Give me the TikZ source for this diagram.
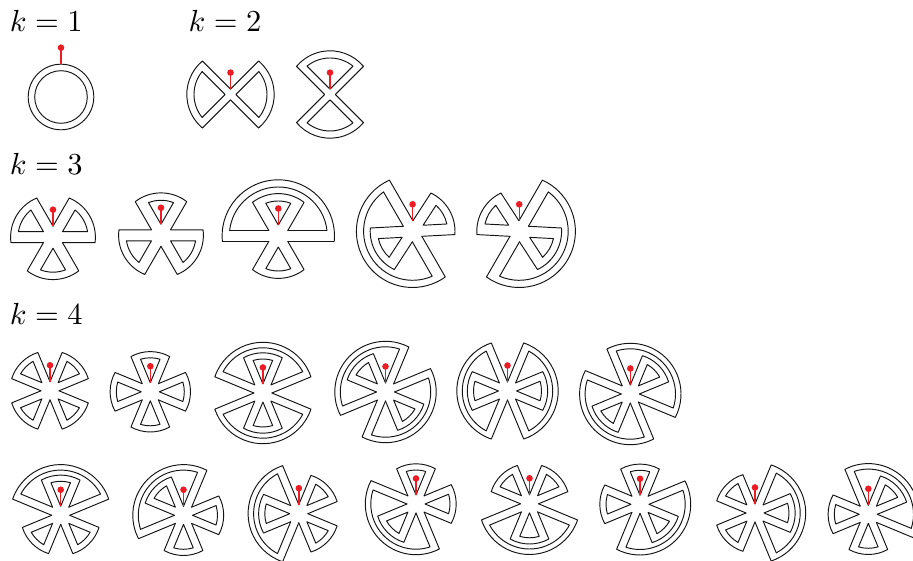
\documentclass[tikz,border=0pt]{standalone}
\definecolor{pinred}{RGB}{237,28,36}
\tikzset{ribbon/.style={draw=black!92,line width=0.95pt,line cap=round,line join=round},
pinline/.style={draw=pinred,line width=1.4pt},
pinball/.style={fill=pinred},
lab/.style={scale=3.05,anchor=base west,inner sep=0pt}}
% band from spoke p ccw to spoke q: p q ri ro gapBelowP gapAboveP gapBelowQ gapAboveQ
\newcommand\rbandx[8]{%
 \pgfmathsetmacro\hA{\hw+\hx*abs(sin(2*(#1-#5/2)))}%
 \pgfmathsetmacro\hB{\hw+\hx*abs(sin(2*(#1+#6/2)))}%
 \pgfmathsetmacro\hC{\hw+\hx*abs(sin(2*(#2-#7/2)))}%
 \pgfmathsetmacro\hD{\hw+\hx*abs(sin(2*(#2+#8/2)))}%
 \pgfmathsetmacro\rA{\hA/sin(#5/2)}%
 \pgfmathsetmacro\rB{\hB/sin(#6/2)}%
 \pgfmathsetmacro\rC{\hC/sin(#7/2)}%
 \pgfmathsetmacro\rD{\hD/sin(#8/2)}%
 \pgfmathsetmacro\aS{#1-asin(\hA/#4)}%
 \pgfmathsetmacro\aE{#2+asin(\hD/#4)}%
 \pgfmathsetmacro\bS{#1+asin(\hB/#3)}%
 \pgfmathsetmacro\bE{#2-asin(\hC/#3)}%
 \draw[ribbon] ({#1-#5/2}:\rA pt) -- (\aS:#4pt)
   arc[start angle=\aS,end angle=\aE,radius=#4pt] -- ({#2+#8/2}:\rD pt);
 \draw[ribbon] ({#1+#6/2}:\rB pt) -- (\bS:#3pt)
   arc[start angle=\bS,end angle=\bE,radius=#3pt] -- ({#2-#7/2}:\rC pt);
}
\newcommand\rband[4]{\rbandx{#1}{#2}{#3}{#4}{\gp}{\gp}{\gp}{\gp}}
\newcommand\rpin[1]{%
 \draw[pinline] (0pt,#1pt) -- (0pt,#1pt+16.5pt);
 \fill[pinball] (0pt,#1pt+16.5pt) circle[radius=3.3pt];}
\newcommand\autopin{\pgfmathsetmacro\apx{\hw/sin(\gp/2)}\rpin{\apx}}
\newenvironment{fig}[4]{\begin{scope}[shift={(#1pt,561pt-#2pt)}]\def\hw{#3}\def\gp{#4}\pgfmathsetmacro\hx{(#4==45)?0.95:0}}{\end{scope}}
% radii
\def\Ra{34}\def\Rb{40.2}\def\Rc{45.2}\def\Rd{50.7}
\def\Sa{35}\def\Sb{42.4}\def\Sc{49}\def\Sd{56.2}
\begin{document}
\begin{tikzpicture}
\clip (0pt,0pt) rectangle (913pt,561pt);
\node[lab] (t1) at (9.3pt,529pt) {$k=1$};
\node[lab] (t2) at (188pt,529pt) {$k=2$};
\node[lab] (t3) at (9.3pt,386.5pt) {$k=3$};
\node[lab] (t4) at (9.3pt,236.5pt) {$k=4$};
% k=1
\begin{fig}{61}{97}{3}{90}
 \draw[ribbon] (0pt,0pt) circle[radius=26.3pt];
 \draw[ribbon] (0pt,0pt) circle[radius=32.8pt];
 \rpin{32.8}
\end{fig}
% k=2
\begin{fig}{230.5}{94.5}{3.8}{90}
 \rband{135}{225}{36.5}{43.7}\rband{-45}{45}{36.5}{43.7}\autopin
\end{fig}
\begin{fig}{330}{94.5}{3.8}{90}
 \rband{45}{135}{36.5}{43.7}\rband{225}{315}{36.5}{43.7}\autopin
\end{fig}
% k=3
\begin{fig}{53}{237.2}{5.5}{60}
 \rband{120}{180}{\Sa}{\Sb}\rband{0}{60}{\Sa}{\Sb}\rband{240}{300}{\Sa}{\Sb}\autopin
\end{fig}
\begin{fig}{161}{235.3}{5.5}{60}
 \rband{60}{120}{\Sa}{\Sb}\rband{180}{240}{\Sa}{\Sb}\rband{300}{360}{\Sa}{\Sb}\autopin
\end{fig}
\begin{fig}{278.3}{236}{5.5}{60}
 \rband{60}{120}{\Sa}{\Sb}\rband{0}{180}{\Sc}{\Sd}\rband{240}{300}{\Sa}{\Sb}\autopin
\end{fig}
\begin{fig}{412.6}{231.3}{5.5}{60}
 \rbandx{120}{300}{\Sc}{\Sd}{63}{63}{63}{63}
 \rbandx{183}{237}{\Sa}{\Sb}{63}{54}{54}{63}
 \rbandx{3}{57}{\Sa}{\Sb}{63}{54}{54}{63}
 \rpin{10.5}
\end{fig}
\begin{fig}{519.2}{231.3}{5.5}{60}
 \rbandx{240}{420}{\Sc}{\Sd}{63}{63}{63}{63}
 \rbandx{303}{357}{\Sa}{\Sb}{63}{54}{54}{63}
 \rbandx{123}{177}{\Sa}{\Sb}{63}{54}{54}{63}
 \rpin{10.5}
\end{fig}
% k=4 first row
\begin{fig}{50}{390.8}{3.45}{45}
 \rband{112.5}{157.5}{\Ra}{\Rb}\rband{202.5}{247.5}{\Ra}{\Rb}\rband{292.5}{337.5}{\Ra}{\Rb}\rband{22.5}{67.5}{\Ra}{\Rb}\autopin
\end{fig}
\begin{fig}{150.3}{391.8}{3.45}{45}
 \rband{67.5}{112.5}{\Ra}{\Rb}\rband{157.5}{202.5}{\Ra}{\Rb}\rband{247.5}{292.5}{\Ra}{\Rb}\rband{-22.5}{22.5}{\Ra}{\Rb}\autopin
\end{fig}
\begin{fig}{262.9}{393}{3.45}{45}
 \rband{67.5}{112.5}{\Ra}{\Rb}\rband{22.5}{157.5}{\Rc}{\Rd}\rband{247.5}{292.5}{\Ra}{\Rb}\rband{202.5}{337.5}{\Rc}{\Rd}\autopin
\end{fig}
\begin{fig}{385.5}{392}{3.45}{45}
 \rband{112.5}{157.5}{\Ra}{\Rb}\rband{67.5}{202.5}{\Rc}{\Rd}\rband{292.5}{337.5}{\Ra}{\Rb}\rband{247.5}{382.5}{\Rc}{\Rd}\autopin
\end{fig}
\begin{fig}{507.5}{391}{3.45}{45}
 \rband{157.5}{202.5}{\Ra}{\Rb}\rband{112.5}{247.5}{\Rc}{\Rd}\rband{-22.5}{22.5}{\Ra}{\Rb}\rband{-67.5}{67.5}{\Rc}{\Rd}\autopin
\end{fig}
\begin{fig}{630.3}{394}{3.45}{45}
 \rband{22.5}{67.5}{\Ra}{\Rb}\rband{-22.5}{112.5}{\Rc}{\Rd}\rband{202.5}{247.5}{\Ra}{\Rb}\rband{157.5}{292.5}{\Rc}{\Rd}\autopin
\end{fig}
% k=4 second row
\begin{fig}{60.7}{515.3}{3.45}{45}
 \rband{67.5}{112.5}{\Ra}{\Rb}\rband{22.5}{157.5}{\Rc}{\Rd}\rband{202.5}{247.5}{\Ra}{\Rb}\rband{292.5}{337.5}{\Ra}{\Rb}\autopin
\end{fig}
\begin{fig}{183.5}{515.3}{3.45}{45}
 \rband{112.5}{157.5}{\Ra}{\Rb}\rband{67.5}{202.5}{\Rc}{\Rd}\rband{-22.5}{22.5}{\Ra}{\Rb}\rband{247.5}{292.5}{\Ra}{\Rb}\autopin
\end{fig}
\begin{fig}{298.8}{513.7}{3.45}{45}
 \rband{157.5}{202.5}{\Ra}{\Rb}\rband{112.5}{247.5}{\Rc}{\Rd}\rband{22.5}{67.5}{\Ra}{\Rb}\rband{292.5}{337.5}{\Ra}{\Rb}\autopin
\end{fig}
\begin{fig}{416}{504}{3.45}{45}
 \rband{67.5}{112.5}{\Ra}{\Rb}\rband{202.5}{247.5}{\Ra}{\Rb}\rband{157.5}{292.5}{\Rc}{\Rd}\rband{-22.5}{22.5}{\Ra}{\Rb}\autopin
\end{fig}
\begin{fig}{529.5}{503.8}{3.45}{45}
 \rband{112.5}{157.5}{\Ra}{\Rb}\rband{22.5}{67.5}{\Ra}{\Rb}\rband{247.5}{292.5}{\Ra}{\Rb}\rband{202.5}{337.5}{\Rc}{\Rd}\autopin
\end{fig}
\begin{fig}{640}{504.3}{3.45}{45}
 \rband{67.5}{112.5}{\Ra}{\Rb}\rband{157.5}{202.5}{\Ra}{\Rb}\rband{292.5}{337.5}{\Ra}{\Rb}\rband{247.5}{382.5}{\Rc}{\Rd}\autopin
\end{fig}
\begin{fig}{755}{513}{3.45}{45}
 \rband{112.5}{157.5}{\Ra}{\Rb}\rband{202.5}{247.5}{\Ra}{\Rb}\rband{-22.5}{22.5}{\Ra}{\Rb}\rband{-67.5}{67.5}{\Rc}{\Rd}\autopin
\end{fig}
\begin{fig}{868.3}{514.3}{3.45}{45}
 \rband{22.5}{67.5}{\Ra}{\Rb}\rband{-22.5}{112.5}{\Rc}{\Rd}\rband{157.5}{202.5}{\Ra}{\Rb}\rband{247.5}{292.5}{\Ra}{\Rb}\autopin
\end{fig}
\end{tikzpicture}
\end{document}
